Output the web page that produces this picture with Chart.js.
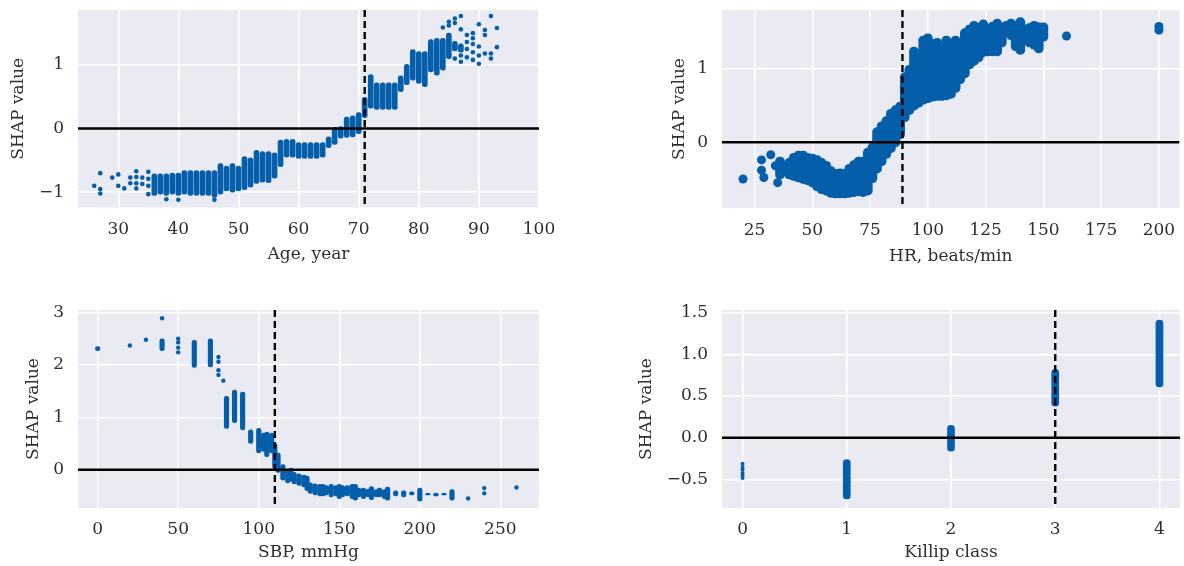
<!DOCTYPE html>
<html>
<head>
<meta charset="utf-8">
<script src="https://cdn.jsdelivr.net/npm/chart.js@4.4.1/dist/chart.umd.min.js"></script>
<style>
  html, body { margin: 0; padding: 0; background: #fff; }
  body { width: 1184px; height: 566px; position: relative; overflow: hidden; }
  canvas { position: absolute; }
</style>
</head>
<body>
<canvas id="age" width="560" height="283" style="left:0;top:0"></canvas>
<canvas id="hr" width="584" height="283" style="left:600px;top:0"></canvas>
<canvas id="sbp" width="560" height="283" style="left:0;top:283px"></canvas>
<canvas id="killip" width="584" height="283" style="left:600px;top:283px"></canvas>
<script>
// ---- Age panel ----
const ageColX  = [36, 37, 38, 39, 40, 41, 42, 43, 44, 45, 46, 47, 48, 49, 50, 51, 52, 53, 54, 55, 56, 57, 58, 59, 60, 61, 62, 63, 64, 65, 66, 67, 68, 69, 70, 71, 72, 73, 74, 75, 76, 77, 78, 79, 80, 81, 82, 83, 84, 85, 86, 87];
const ageColLo = [-1.05, -1.03, -1.05, -1.03, -1.05, -1.03, -1.05, -1.05, -1.05, -1.05, -1.08, -1.03, -0.98, -1.0, -0.98, -0.96, -0.92, -0.86, -0.84, -0.85, -0.78, -0.6, -0.45, -0.45, -0.47, -0.47, -0.47, -0.47, -0.45, -0.3, -0.25, -0.15, -0.14, -0.13, -0.08, 0.17, 0.32, 0.3, 0.3, 0.3, 0.3, 0.58, 0.69, 0.76, 0.71, 0.66, 0.89, 0.84, 0.92, 1.1, 1.22, 1.2];
const ageColHi = [-0.71, -0.71, -0.71, -0.7, -0.7, -0.66, -0.66, -0.66, -0.66, -0.66, -0.66, -0.55, -0.59, -0.55, -0.59, -0.44, -0.46, -0.34, -0.36, -0.36, -0.38, -0.18, -0.17, -0.17, -0.22, -0.22, -0.22, -0.22, -0.22, -0.13, 0.02, 0.03, 0.18, 0.2, 0.25, 0.49, 0.85, 0.72, 0.72, 0.72, 0.72, 0.83, 1.01, 1.24, 1.21, 1.21, 1.4, 1.42, 1.42, 1.5, 1.37, 1.33];
const ageDotX = [26, 27, 27, 27, 29, 30, 30, 31, 32, 32, 33, 33, 33, 33, 34, 34, 35, 35, 35, 35, 38, 40, 46, 84, 85, 85, 86, 86, 86, 87, 87, 87, 87, 87, 88, 88, 88, 88, 89, 89, 89, 89, 89, 90, 90, 90, 90, 91, 91, 91, 92, 92, 92, 93, 93];
const ageDotY = [-0.9, -0.7, -0.95, -1.02, -0.77, -0.72, -0.9, -0.94, -0.77, -0.86, -0.67, -0.76, -0.86, -0.94, -0.77, -0.87, -0.68, -0.79, -0.9, -1.03, -1.11, -1.12, -1.12, 1.59, 1.62, 1.68, 1.73, 1.66, 1.1, 1.77, 1.56, 1.3, 1.15, 1.05, 1.47, 1.36, 1.25, 1.12, 1.5, 1.42, 1.33, 1.2, 1.08, 1.64, 1.29, 1.15, 1.02, 1.55, 1.47, 1.18, 1.77, 1.18, 1.1, 1.58, 1.28];
const ageTicksX = [30, 40, 50, 60, 70, 80, 90, 100];
const ageTicksY = [-1, 0, 1];
const ageCut = 71;

// ---- HR panel ----
const hrColX  = [36, 38, 40, 42, 44, 46, 48, 50, 52, 54, 56, 58, 60, 62, 64, 66, 68, 70, 72, 74, 76, 78, 80, 82, 84, 86, 88, 90, 92, 94, 96, 98, 100, 102, 104, 106, 108, 110, 112, 114, 116, 118, 120, 122, 124, 126, 128, 130, 132, 134, 136, 138, 140, 142, 144, 146, 148, 150];
const hrColLo = [-0.5, -0.45, -0.5, -0.52, -0.54, -0.56, -0.58, -0.61, -0.66, -0.7, -0.72, -0.75, -0.76, -0.76, -0.76, -0.75, -0.74, -0.73, -0.74, -0.72, -0.55, -0.42, -0.32, -0.22, -0.14, -0.06, 0.05, 0.28, 0.38, 0.44, 0.48, 0.52, 0.54, 0.56, 0.57, 0.57, 0.58, 0.6, 0.68, 0.8, 0.88, 1.0, 1.05, 1.1, 1.17, 1.18, 1.18, 1.18, 1.3, 1.45, 1.4, 1.25, 1.2, 1.4, 1.3, 1.27, 1.22, 1.38];
const hrColHi = [-0.2, -0.26, -0.22, -0.15, -0.12, -0.12, -0.15, -0.16, -0.18, -0.22, -0.26, -0.33, -0.37, -0.36, -0.37, -0.3, -0.25, -0.2, -0.2, -0.08, 0.0, 0.2, 0.28, 0.35, 0.45, 0.5, 0.55, 0.95, 1.05, 1.3, 1.2, 1.45, 1.48, 1.4, 1.42, 1.35, 1.45, 1.2, 1.45, 1.4, 1.55, 1.6, 1.65, 1.62, 1.67, 1.6, 1.64, 1.68, 1.62, 1.65, 1.68, 1.65, 1.7, 1.6, 1.62, 1.65, 1.63, 1.63];
const hrDotX = [20, 28, 28, 29, 32, 34, 35, 160, 200, 200];
const hrDotY = [-0.5, -0.24, -0.38, -0.48, -0.17, -0.32, -0.55, 1.45, 1.53, 1.58];
const hrTicksX = [25, 50, 75, 100, 125, 150, 175, 200];
const hrTicksY = [0, 1];
const hrCut = 89;

// ---- SBP panel ----
const sbpColX  = [0, 40, 60, 70, 80, 85, 90, 95, 100, 103, 105, 108, 110, 112, 115, 118, 120, 122, 125, 128, 130, 132, 135, 138, 140, 142, 145, 148, 150, 152, 155, 158, 160, 162, 165, 168, 170, 173, 175, 178, 180, 185, 190, 195, 200, 205, 210, 215, 220];
const sbpColLo = [2.27, 2.27, 1.95, 1.96, 0.79, 0.9, 0.76, 0.5, 0.32, 0.35, 0.25, 0.32, 0.0, -0.05, -0.2, -0.25, -0.22, -0.27, -0.3, -0.33, -0.4, -0.45, -0.48, -0.5, -0.5, -0.48, -0.52, -0.5, -0.55, -0.52, -0.5, -0.55, -0.58, -0.52, -0.55, -0.52, -0.57, -0.52, -0.52, -0.55, -0.58, -0.5, -0.52, -0.48, -0.6, -0.48, -0.5, -0.48, -0.58];
const sbpColHi = [2.35, 2.5, 2.47, 2.5, 1.4, 1.52, 1.48, 0.76, 0.79, 0.7, 0.72, 0.7, 0.5, 0.32, 0.1, 0.0, 0.03, -0.05, -0.08, -0.1, -0.12, -0.25, -0.27, -0.28, -0.28, -0.3, -0.28, -0.3, -0.28, -0.3, -0.3, -0.28, -0.28, -0.35, -0.35, -0.37, -0.32, -0.38, -0.35, -0.38, -0.33, -0.4, -0.4, -0.42, -0.35, -0.45, -0.45, -0.45, -0.38];
const sbpDotX = [20, 30, 40, 50, 50, 50, 50, 75, 75, 75, 75, 78, 230, 240, 240, 260];
const sbpDotY = [2.37, 2.48, 2.89, 2.5, 2.43, 2.33, 2.24, 2.15, 2.06, 1.9, 1.81, 1.7, -0.55, -0.35, -0.45, -0.34];
const sbpTicksX = [0, 50, 100, 150, 200, 250];
const sbpTicksY = [0, 1, 2, 3];
const sbpCut = 110;

// ---- Killip panel ----
const killipColX  = [1, 2, 3, 4];
const killipColLo = [-0.73, -0.16, 0.38, 0.61];
const killipColHi = [-0.26, 0.15, 0.82, 1.41];
const killipDotX = [0, 0, 0, 0, 0, 0];
const killipDotY = [-0.31, -0.35, -0.38, -0.42, -0.45, -0.48];
const killipTicksX = [0, 1, 2, 3, 4];
const killipTicksY = [-0.5, 0, 0.5, 1, 1.5];
const killipCut = 3;

const BLUE = '#045ea9';
const TXT = '#2e2e2e';
const FONT = {family: 'DejaVu Serif', size: 17};
const minus = s => String(s).replace('-', '\u2212');

const bgPlugin = {
  id: 'bg',
  beforeDraw(chart) {
    const a = chart.chartArea, ctx = chart.ctx;
    ctx.save();
    ctx.fillStyle = '#eaeaf2';
    ctx.fillRect(a.left, a.top, a.right - a.left, a.bottom - a.top);
    ctx.restore();
  }
};

// zero line and dashed cut-off line, drawn over the points
const refPlugin = {
  id: 'ref',
  afterDatasetsDraw(chart, args, opts) {
    const a = chart.chartArea, ctx = chart.ctx;
    const x = chart.scales.x.getPixelForValue(opts.cut);
    const y0 = chart.scales.y.getPixelForValue(0);
    ctx.save();
    ctx.beginPath();
    ctx.rect(a.left, a.top, a.right - a.left, a.bottom - a.top);
    ctx.clip();
    ctx.strokeStyle = '#000';
    ctx.lineWidth = 2.5;
    ctx.beginPath();
    ctx.moveTo(a.left, y0);
    ctx.lineTo(a.right, y0);
    ctx.stroke();
    ctx.lineWidth = 2.4;
    ctx.setLineDash([7, 4]);
    ctx.beginPath();
    ctx.moveTo(x, a.top);
    ctx.lineTo(x, a.bottom);
    ctx.stroke();
    ctx.restore();
  }
};

function makePanel(id, p) {
  const bars = p.colX.map((x, i) => ({x: x, y: [p.colLo[i], p.colHi[i]]}));
  const dots = p.dotX.map((x, i) => ({x: x, y: p.dotY[i]}));
  new Chart(document.getElementById(id), {
    type: 'bar',
    data: {
      datasets: [
        {
          type: 'bar',
          data: bars,
          backgroundColor: BLUE,
          barThickness: p.barW,
          borderRadius: p.barW / 2,
          borderSkipped: false,
          borderWidth: 0
        },
        {
          type: 'scatter',
          data: dots,
          backgroundColor: BLUE,
          pointRadius: p.dotR,
          pointBorderWidth: 0
        }
      ]
    },
    options: {
      responsive: false,
      animation: false,
      events: [],
      layout: { padding: { top: p.padTop, right: p.padRight, left: 0, bottom: 0 } },
      plugins: {
        legend: { display: false },
        tooltip: { enabled: false },
        ref: { cut: p.cut }
      },
      scales: {
        x: {
          type: 'linear', min: p.xMin, max: p.xMax, offset: false,
          afterBuildTicks: s => { s.ticks = p.ticksX.map(v => ({value: v})); },
          afterFit: s => { s.height = p.xAxisH; s.paddingLeft = 0; s.paddingRight = 0; },
          grid: { color: '#ffffff', lineWidth: 1.5, drawTicks: false, offset: false },
          border: { display: false },
          ticks: { padding: p.xTickPad, color: TXT, font: FONT, maxRotation: 0, autoSkip: false, callback: v => minus(v) },
          title: { display: true, text: p.xTitle, color: TXT, font: FONT, padding: { top: 0, bottom: p.xTitlePad } }
        },
        y: {
          type: 'linear', min: p.yMin, max: p.yMax,
          afterBuildTicks: s => { s.ticks = p.ticksY.map(v => ({value: v})); },
          afterFit: s => { s.width = p.yAxisW; s.paddingTop = 0; s.paddingBottom = 0; },
          grid: { color: '#ffffff', lineWidth: 1.5, drawTicks: false },
          border: { display: false },
          ticks: { padding: 14, color: TXT, font: FONT, autoSkip: false, callback: p.yFmt || (v => minus(v)) },
          title: { display: true, text: 'SHAP value', color: TXT, font: FONT, padding: { top: p.yTitlePad, bottom: 0 } }
        }
      }
    },
    plugins: [bgPlugin, refPlugin]
  });
}

makePanel('age', {
  colX: ageColX, colLo: ageColLo, colHi: ageColHi, dotX: ageDotX, dotY: ageDotY,
  ticksX: ageTicksX, ticksY: ageTicksY, cut: ageCut,
  xMin: 23.3, xMax: 100, yMin: -1.24, yMax: 1.864,
  barW: 5, dotR: 2.3, xTitle: 'Age, year',
  padTop: 10, padRight: 21, yAxisW: 78, xAxisH: 75.5, xTickPad: 12.3, xTitlePad: 17.8, yTitlePad: 8
});

makePanel('hr', {
  colX: hrColX, colLo: hrColLo, colHi: hrColHi, dotX: hrDotX, dotY: hrDotY,
  ticksX: hrTicksX, ticksY: hrTicksY, cut: hrCut,
  xMin: 10.9, xMax: 208.9, yMin: -0.896, yMax: 1.805,
  barW: 9, dotR: 4.5, xTitle: 'HR, beats/min',
  padTop: 10, padRight: 0, yAxisW: 122, xAxisH: 75, xTickPad: 12.5, xTitlePad: 16, yTitlePad: 69
});

makePanel('sbp', {
  colX: sbpColX, colLo: sbpColLo, colHi: sbpColHi, dotX: sbpDotX, dotY: sbpDotY,
  ticksX: sbpTicksX, ticksY: sbpTicksY, cut: sbpCut,
  xMin: -12.2, xMax: 274, yMin: -0.73, yMax: 3.048,
  barW: 4.5, dotR: 2.2, xTitle: 'SBP, mmHg',
  padTop: 27, padRight: 21, yAxisW: 78, xAxisH: 58, xTickPad: 11.8, xTitlePad: 2.8, yTitlePad: 23
});

makePanel('killip', {
  colX: killipColX, colLo: killipColLo, colHi: killipColHi, dotX: killipDotX, dotY: killipDotY,
  ticksX: killipTicksX, ticksY: killipTicksY, cut: killipCut,
  xMin: -0.197, xMax: 4.197, yMin: -0.84, yMax: 1.53,
  barW: 7, dotR: 2, xTitle: 'Killip class',
  padTop: 27, padRight: 0, yAxisW: 122, xAxisH: 58, xTickPad: 11.8, xTitlePad: 2.8, yTitlePad: 36.5,
  yFmt: v => minus(v.toFixed(1))
});
</script>
</body>
</html>
